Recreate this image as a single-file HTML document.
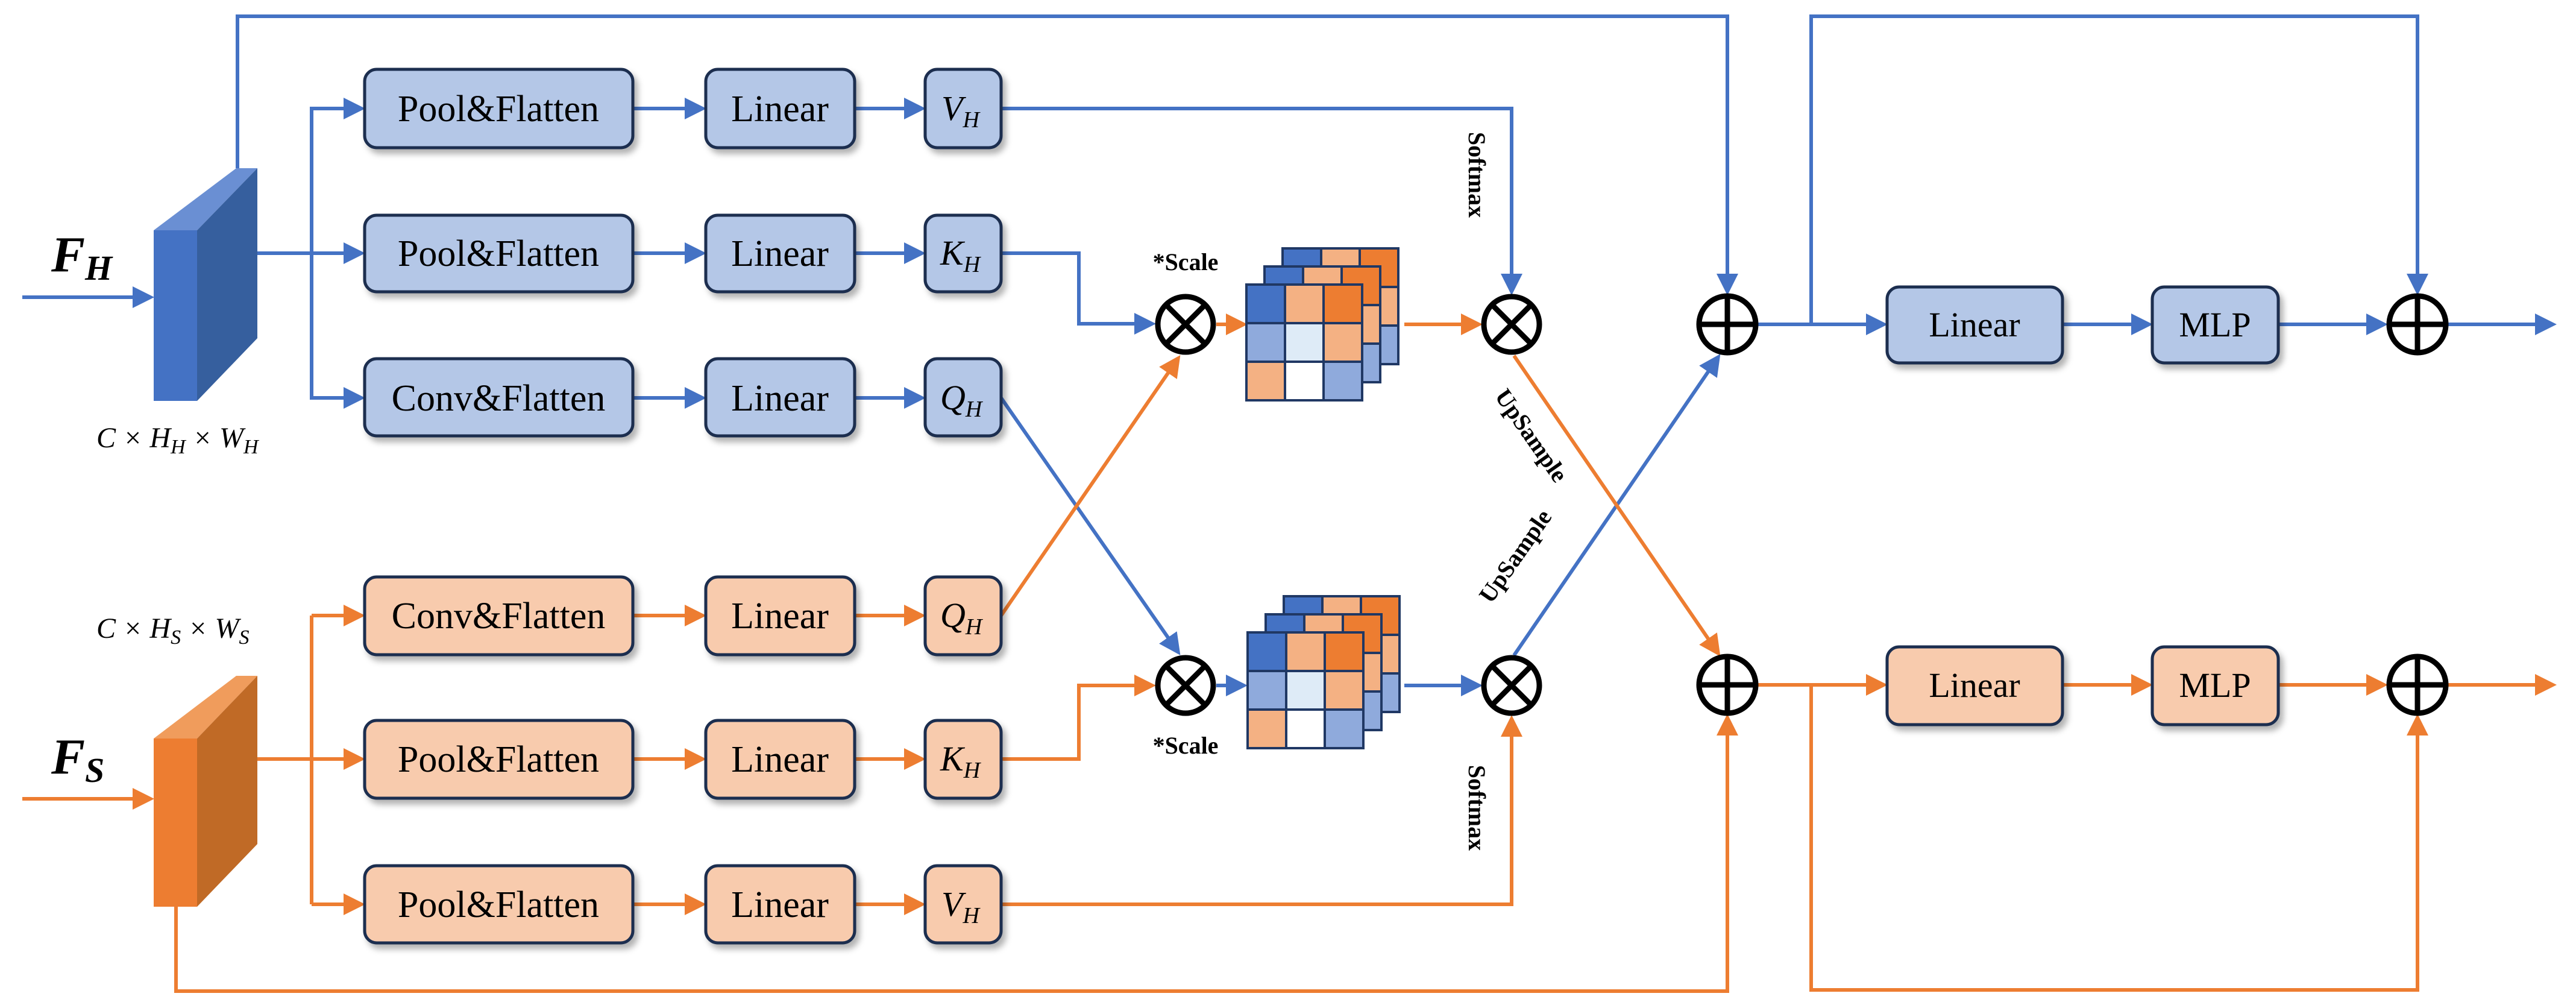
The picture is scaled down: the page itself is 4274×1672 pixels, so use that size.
<!DOCTYPE html>
<html><head><meta charset="utf-8"><style>html,body{margin:0;padding:0;background:#fff}svg{display:block}</style></head>
<body>
<svg width="4274" height="1672" viewBox="0 0 4274 1672" xmlns="http://www.w3.org/2000/svg" font-family="Liberation Serif, serif">
<defs>
<marker id="ab" markerWidth="6" markerHeight="6" refX="5" refY="3" orient="auto" markerUnits="strokeWidth"><path d="M0,0 L6,3 L0,6 z" fill="#4472c4"/></marker>
<marker id="ao" markerWidth="6" markerHeight="6" refX="5" refY="3" orient="auto" markerUnits="strokeWidth"><path d="M0,0 L6,3 L0,6 z" fill="#ed7d31"/></marker>
<filter id="sh" x="-10%" y="-10%" width="130%" height="140%"><feDropShadow dx="6" dy="8" stdDeviation="5" flood-color="#000" flood-opacity="0.3"/></filter>
</defs>

<g fill="none" stroke="#4472c4" stroke-width="6">
<line x1="37" y1="493" x2="250" y2="493" marker-end="url(#ab)"/>
<polyline points="394,279 394,27 2866,27 2866,484" marker-end="url(#ab)"/>
<line x1="427" y1="420" x2="600" y2="420" marker-end="url(#ab)"/>
<polyline points="600,180 517,180 517,660 600,660" />
<line x1="517" y1="180" x2="600" y2="180" marker-end="url(#ab)"/>
<line x1="517" y1="660" x2="600" y2="660" marker-end="url(#ab)"/>
<line x1="1050" y1="180" x2="1166" y2="180" marker-end="url(#ab)"/>
<line x1="1050" y1="420" x2="1166" y2="420" marker-end="url(#ab)"/>
<line x1="1050" y1="660" x2="1166" y2="660" marker-end="url(#ab)"/>
<line x1="1418" y1="180" x2="1530" y2="180" marker-end="url(#ab)"/>
<line x1="1418" y1="420" x2="1530" y2="420" marker-end="url(#ab)"/>
<line x1="1418" y1="660" x2="1530" y2="660" marker-end="url(#ab)"/>
<polyline points="1661,180 2508,180 2508,484" marker-end="url(#ab)"/>
<polyline points="1661,420 1790,420 1790,537 1912,537" marker-end="url(#ab)"/>
<line x1="1661" y1="660" x2="1955" y2="1082" marker-end="url(#ab)"/>
<line x1="2018" y1="1137" x2="2064" y2="1137" marker-end="url(#ab)"/>
<line x1="2330" y1="1137" x2="2454" y2="1137" marker-end="url(#ab)"/>
<line x1="2512" y1="1087" x2="2851" y2="592" marker-end="url(#ab)"/>
<line x1="2915" y1="538" x2="3126" y2="538" marker-end="url(#ab)"/>
<polyline points="3005,538 3005,27 4011,27 4011,484" marker-end="url(#ab)"/>
<line x1="3422" y1="538" x2="3566" y2="538" marker-end="url(#ab)"/>
<line x1="3780" y1="538" x2="3956" y2="538" marker-end="url(#ab)"/>
<line x1="4060" y1="538" x2="4236" y2="538" marker-end="url(#ab)"/>
</g>

<g fill="none" stroke="#ed7d31" stroke-width="6">
<line x1="37" y1="1325" x2="250" y2="1325" marker-end="url(#ao)"/>
<polyline points="292,1504 292,1644 2866,1644 2866,1190" marker-end="url(#ao)"/>
<line x1="427" y1="1259" x2="600" y2="1259" marker-end="url(#ao)"/>
<polyline points="517,1021 517,1500" />
<line x1="517" y1="1021" x2="600" y2="1021" marker-end="url(#ao)"/>
<line x1="517" y1="1500" x2="600" y2="1500" marker-end="url(#ao)"/>
<line x1="1050" y1="1021" x2="1166" y2="1021" marker-end="url(#ao)"/>
<line x1="1050" y1="1259" x2="1166" y2="1259" marker-end="url(#ao)"/>
<line x1="1050" y1="1500" x2="1166" y2="1500" marker-end="url(#ao)"/>
<line x1="1418" y1="1021" x2="1530" y2="1021" marker-end="url(#ao)"/>
<line x1="1418" y1="1259" x2="1530" y2="1259" marker-end="url(#ao)"/>
<line x1="1418" y1="1500" x2="1530" y2="1500" marker-end="url(#ao)"/>
<polyline points="1661,1500 2508,1500 2508,1192" marker-end="url(#ao)"/>
<polyline points="1661,1259 1790,1259 1790,1137 1912,1137" marker-end="url(#ao)"/>
<line x1="1661" y1="1021" x2="1955" y2="594" marker-end="url(#ao)"/>
<line x1="2018" y1="538" x2="2064" y2="538" marker-end="url(#ao)"/>
<line x1="2330" y1="538" x2="2454" y2="538" marker-end="url(#ao)"/>
<line x1="2512" y1="590" x2="2851" y2="1084" marker-end="url(#ao)"/>
<line x1="2915" y1="1136" x2="3126" y2="1136" marker-end="url(#ao)"/>
<polyline points="3005,1136 3005,1642 4011,1642 4011,1190" marker-end="url(#ao)"/>
<line x1="3422" y1="1136" x2="3566" y2="1136" marker-end="url(#ao)"/>
<line x1="3780" y1="1136" x2="3956" y2="1136" marker-end="url(#ao)"/>
<line x1="4060" y1="1136" x2="4236" y2="1136" marker-end="url(#ao)"/>
</g>

<polygon points="255,382 327,382 427,279 392,279" fill="#6a8fd3"/>
<polygon points="327,382 427,279 427,561 327,665" fill="#365f9e"/>
<rect x="255" y="382" width="72" height="283" fill="#4472c4"/>
<polygon points="255,1225 327,1225 427,1121 392,1121" fill="#f09c5c"/>
<polygon points="327,1225 427,1121 427,1400 327,1504" fill="#c06a26"/>
<rect x="255" y="1225" width="72" height="279" fill="#ed7d31"/>

<text x="85" y="450" font-size="84" font-weight="bold" font-style="italic">F<tspan font-size="58" dy="14">H</tspan></text>
<text x="85" y="1283" font-size="84" font-weight="bold" font-style="italic">F<tspan font-size="58" dy="14">S</tspan></text>
<text x="160" y="742" font-size="48" font-style="italic">C × H<tspan font-size="34" dy="10">H</tspan><tspan dy="-10"> × W</tspan><tspan font-size="34" dy="10">H</tspan></text>
<text x="160" y="1058" font-size="48" font-style="italic">C × H<tspan font-size="34" dy="10">S</tspan><tspan dy="-10"> × W</tspan><tspan font-size="34" dy="10">S</tspan></text>

<g stroke="#1f2f4f" stroke-width="5" filter="url(#sh)">
<g fill="#b4c7e7">
<rect x="605" y="115" width="445" height="130" rx="20"/>
<rect x="1171" y="115" width="247" height="130" rx="20"/>
<rect x="1535" y="115" width="126" height="130" rx="20"/>
<rect x="605" y="357" width="445" height="127" rx="20"/>
<rect x="1171" y="357" width="247" height="127" rx="20"/>
<rect x="1535" y="357" width="126" height="127" rx="20"/>
<rect x="605" y="595" width="445" height="128" rx="20"/>
<rect x="1171" y="595" width="247" height="128" rx="20"/>
<rect x="1535" y="595" width="126" height="128" rx="20"/>
<rect x="3131" y="476" width="291" height="126" rx="20"/>
<rect x="3571" y="476" width="209" height="126" rx="20"/>
</g>
<g fill="#f8cbad">
<rect x="605" y="957" width="445" height="129" rx="20"/>
<rect x="1171" y="957" width="247" height="129" rx="20"/>
<rect x="1535" y="957" width="126" height="129" rx="20"/>
<rect x="605" y="1195" width="445" height="129" rx="20"/>
<rect x="1171" y="1195" width="247" height="129" rx="20"/>
<rect x="1535" y="1195" width="126" height="129" rx="20"/>
<rect x="605" y="1436" width="445" height="128" rx="20"/>
<rect x="1171" y="1436" width="247" height="128" rx="20"/>
<rect x="1535" y="1436" width="126" height="128" rx="20"/>
<rect x="3131" y="1073" width="291" height="129" rx="20"/>
<rect x="3571" y="1073" width="209" height="129" rx="20"/>
</g>
</g>

<g font-size="62" text-anchor="middle" fill="#000">
<text x="827" y="201">Pool&amp;Flatten</text>
<text x="1294" y="201">Linear</text>
<text x="827" y="441">Pool&amp;Flatten</text>
<text x="1294" y="441">Linear</text>
<text x="827" y="681">Conv&amp;Flatten</text>
<text x="1294" y="681">Linear</text>
<text x="827" y="1042">Conv&amp;Flatten</text>
<text x="1294" y="1042">Linear</text>
<text x="827" y="1280">Pool&amp;Flatten</text>
<text x="1294" y="1280">Linear</text>
<text x="827" y="1521">Pool&amp;Flatten</text>
<text x="1294" y="1521">Linear</text>
</g>
<g font-size="58" text-anchor="middle">
<text x="3276" y="558">Linear</text>
<text x="3675" y="558">MLP</text>
<text x="3276" y="1156">Linear</text>
<text x="3675" y="1156">MLP</text>
</g>
<g font-size="58" font-style="italic">
<text x="1562" y="199">V<tspan font-size="38" dy="12">H</tspan></text>
<text x="1560" y="439">K<tspan font-size="38" dy="12">H</tspan></text>
<text x="1560" y="679">Q<tspan font-size="38" dy="12">H</tspan></text>
<text x="1560" y="1040">Q<tspan font-size="38" dy="12">H</tspan></text>
<text x="1560" y="1278">K<tspan font-size="38" dy="12">H</tspan></text>
<text x="1562" y="1519">V<tspan font-size="38" dy="12">H</tspan></text>
</g>

<g stroke="#203864" stroke-width="4">
<g id="m1">
<rect x="2128" y="412" width="192" height="192" fill="#8faadc"/>
<rect x="2128" y="412" width="64" height="64" fill="#4472c4"/><rect x="2192" y="412" width="64" height="64" fill="#f4b183"/><rect x="2256" y="412" width="64" height="64" fill="#ed7d31"/>
<rect x="2256" y="476" width="64" height="64" fill="#f4b183"/>
<rect x="2098" y="442" width="192" height="192" fill="#8faadc"/>
<rect x="2098" y="442" width="64" height="64" fill="#4472c4"/><rect x="2162" y="442" width="64" height="64" fill="#f4b183"/><rect x="2226" y="442" width="64" height="64" fill="#ed7d31"/>
<rect x="2226" y="506" width="64" height="64" fill="#f4b183"/>
<rect x="2068" y="472" width="64" height="64" fill="#4472c4"/><rect x="2132" y="472" width="64" height="64" fill="#f4b183"/><rect x="2196" y="472" width="64" height="64" fill="#ed7d31"/>
<rect x="2068" y="536" width="64" height="64" fill="#8faadc"/><rect x="2132" y="536" width="64" height="64" fill="#deebf7"/><rect x="2196" y="536" width="64" height="64" fill="#f4b183"/>
<rect x="2068" y="600" width="64" height="64" fill="#f4b183"/><rect x="2132" y="600" width="64" height="64" fill="#fff"/><rect x="2196" y="600" width="64" height="64" fill="#8faadc"/>
</g>
<use href="#m1" transform="translate(2,577)"/>
</g>

<g fill="#fff" stroke="#000" stroke-width="9">
<circle cx="1967" cy="538" r="46"/>
<circle cx="1967" cy="1137" r="46"/>
<circle cx="2508" cy="538" r="46"/>
<circle cx="2508" cy="1137" r="46"/>
<circle cx="2866" cy="538" r="47"/>
<circle cx="2866" cy="1136" r="47"/>
<circle cx="4011" cy="538" r="47"/>
<circle cx="4011" cy="1136" r="47"/>
</g>
<g stroke="#000" stroke-width="9">
<path d="M1935,506 L1999,570 M1999,506 L1935,570"/>
<path d="M1935,1105 L1999,1169 M1999,1105 L1935,1169"/>
<path d="M2476,506 L2540,570 M2540,506 L2476,570"/>
<path d="M2476,1105 L2540,1169 M2540,1105 L2476,1169"/>
<path d="M2866,491 V585 M2819,538 H2913"/>
<path d="M2866,1089 V1183 M2819,1136 H2913"/>
<path d="M4011,491 V585 M3964,538 H4058"/>
<path d="M4011,1089 V1183 M3964,1136 H4058"/>
</g>

<g font-weight="bold" font-size="40">
<text x="1967" y="448" text-anchor="middle">*Scale</text>
<text x="1967" y="1250" text-anchor="middle">*Scale</text>
<text transform="translate(2437,290) rotate(90)" text-anchor="middle">Softmax</text>
<text transform="translate(2437,1340) rotate(90)" text-anchor="middle">Softmax</text>
<text transform="translate(2530,730) rotate(55)" text-anchor="middle">UpSample</text>
<text transform="translate(2525,930) rotate(-55)" text-anchor="middle">UpSample</text>
</g>
</svg>
</body></html>
